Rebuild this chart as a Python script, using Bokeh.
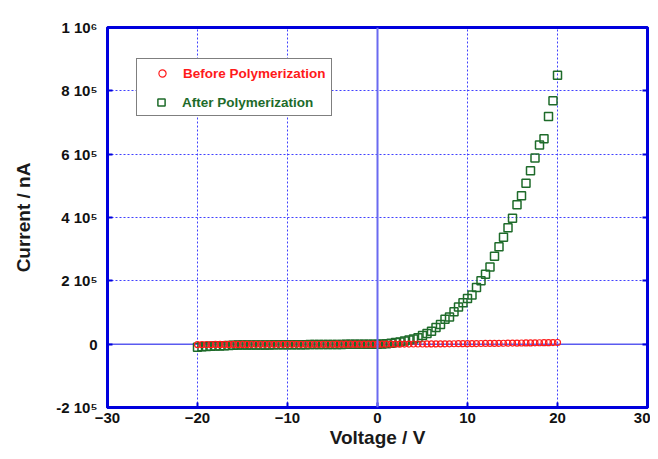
from bokeh.plotting import figure
from bokeh.models import FixedTicker, LinearAxis, Span, Legend, LegendItem, Range1d
from bokeh.core.properties import value
from bokeh.embed import file_html
from bokeh.resources import INLINE

# ---- data ----
voltage = [-20.0, -19.5, -19.0, -18.5, -18.0, -17.5, -17.0, -16.5, -16.0, -15.5,
           -15.0, -14.5, -14.0, -13.5, -13.0, -12.5, -12.0, -11.5, -11.0, -10.5,
           -10.0, -9.5, -9.0, -8.5, -8.0, -7.5, -7.0, -6.5, -6.0, -5.5,
           -5.0, -4.5, -4.0, -3.5, -3.0, -2.5, -2.0, -1.5, -1.0, -0.5,
           0.0,
           0.5, 1.0, 1.5, 2.0, 2.5, 3.0, 3.5, 4.0, 4.5, 5.0,
           5.5, 6.0, 6.5, 7.0, 7.5, 8.0, 8.5, 9.0, 9.5, 10.0,
           10.5, 11.0, 11.5, 12.0, 12.5, 13.0, 13.5, 14.0, 14.5, 15.0,
           15.5, 16.0, 16.5, 17.0, 17.5, 18.0, 18.5, 19.0, 19.5, 20.0]

before_polymerization = [-1200, -1100, -1000, -1000, -900, -900, -850, -800, -800, -750,
                         -700, -700, -650, -600, -600, -550, -500, -500, -450, -450,
                         -400, -400, -350, -350, -300, -300, -250, -250, -200, -200,
                         -200, -150, -150, -100, -100, -100, -50, -50, -50, 0,
                         0,
                         50, 100, 150, 200, 250, 300, 400, 450, 500, 600,
                         700, 800, 900, 1000, 1100, 1200, 1300, 1450, 1600, 1700,
                         1850, 2000, 2150, 2300, 2450, 2600, 2800, 2950, 3100, 3300,
                         3450, 3650, 3800, 4000, 4200, 4400, 4600, 4800, 5000, 5300]

after_polymerization = [-10000, -8000, -7000, -6500, -6000, -5500, -5000, -4500, -3500, -3000,
                        -3000, -2800, -2700, -2600, -2500, -2400, -2300, -2200, -2100, -2000,
                        -1900, -1800, -1700, -1600, -1500, -1400, -1300, -1200, -1100, -1000,
                        -900, -800, -700, -600, -500, -400, -300, -200, -150, -100,
                        0,
                        500, 1500, 3000, 5000, 7000, 10000, 13000, 16000, 20000, 27000,
                        34000, 41000, 53000, 62000, 79000, 86000, 102000, 117000, 131000, 144000,
                        155000, 179000, 200000, 221000, 244000, 278000, 308000, 338000, 368000, 398000,
                        440000, 469000, 508000, 548000, 588000, 629000, 649000, 719000, 769000, 849000]

x_ticks = [-30, -20, -10, 0, 10, 20, 30]
y_ticks = [-200000, 0, 200000, 400000, 600000, 800000, 1000000]
y_tick_labels = ["-2 10\u2075", "0", "2 10\u2075", "4 10\u2075", "6 10\u2075", "8 10\u2075", "1 10\u2076"]

FONT = "Liberation Sans"
BLUE = "#0000dd"
GREEN = "#1e6b2a"
RED = "#ff1a1a"

p = figure(width=650, height=451, output_backend="svg", toolbar_location=None,
           x_range=Range1d(-30, 30), y_range=Range1d(-200000, 1000000),
           min_border_left=107, min_border_right=3, min_border_top=27, min_border_bottom=44,
           background_fill_color="white", border_fill_color="white")

p.outline_line_color = BLUE
p.outline_line_width = 3
p.outline_line_alpha = 1

xt = FixedTicker(ticks=x_ticks)
yt = FixedTicker(ticks=y_ticks)
p.xaxis.ticker = xt
p.yaxis.ticker = yt
p.xgrid.ticker = xt
p.ygrid.ticker = yt
p.yaxis.major_label_overrides = {t: s for t, s in zip(y_ticks, y_tick_labels)}

for ax in (p.xaxis[0], p.yaxis[0]):
    ax.axis_line_color = BLUE
    ax.axis_line_width = 3
    ax.major_tick_in = 5
    ax.major_tick_out = 0
    ax.major_tick_line_color = BLUE
    ax.major_tick_line_width = 2
    ax.minor_tick_line_color = None
    ax.major_label_text_font = FONT
    ax.major_label_text_font_style = "bold"
    ax.major_label_text_font_size = "15px"
    ax.major_label_text_color = "#111111"
    ax.axis_label_text_font = FONT
    ax.axis_label_text_font_style = "bold"
    ax.axis_label_text_font_size = "19px"
    ax.axis_label_text_color = "#1a1a1a"

p.xaxis.axis_label = "Voltage / V"
p.yaxis.axis_label = "Current / nA"
p.xaxis.major_label_standoff = 5
p.xaxis.axis_label_standoff = 1
p.yaxis.major_label_standoff = 10
p.yaxis.axis_label_standoff = 19

ra = LinearAxis(ticker=yt, major_label_overrides={t: "" for t in y_ticks},
                axis_line_color=BLUE, axis_line_width=3,
                major_tick_in=5, major_tick_out=0, major_tick_line_color=BLUE,
                major_tick_line_width=2, minor_tick_line_color=None,
                major_label_standoff=0, major_label_text_font_size="1px")
p.add_layout(ra, "right")

for g in (p.xgrid[0], p.ygrid[0]):
    g.grid_line_color = "#4040ff"
    g.grid_line_dash = "2 2"
    g.grid_line_width = 1
    g.grid_line_alpha = 1

p.add_layout(Span(location=0, dimension="height", line_color="#6a6af0", line_width=2))
p.add_layout(Span(location=0, dimension="width", line_color="#5a5af0", line_width=1.5, level="underlay"))

r_after = p.scatter(voltage, after_polymerization, marker="square", size=8,
                    fill_color=None, line_color=GREEN, line_width=1.5)
r_before = p.scatter(voltage, before_polymerization, marker="circle", size=6,
                     fill_color=None, line_color=RED, line_width=1.2)

common = dict(location=(29, 291), padding=5, spacing=10, glyph_width=40, glyph_height=18,
              label_height=18, label_standoff=1, label_text_font=FONT,
              label_text_font_style="bold", label_text_font_size="13.5px", margin=0,
              border_line_width=1)

leg_a = Legend(items=[LegendItem(label=value("Before Polymerization"), renderers=[r_before]),
                      LegendItem(label=value(" "), renderers=[])],
               label_text_color=RED, border_line_color="black",
               background_fill_color="white", background_fill_alpha=1, **common)
leg_b = Legend(items=[LegendItem(label=value("After Polymerization"), renderers=[r_after])],
               label_text_color=GREEN, border_line_color="black", border_line_alpha=0,
               background_fill_alpha=0, **common)
p.add_layout(leg_a)
p.add_layout(leg_b)

open("out.html", "w").write(file_html(p, INLINE))
